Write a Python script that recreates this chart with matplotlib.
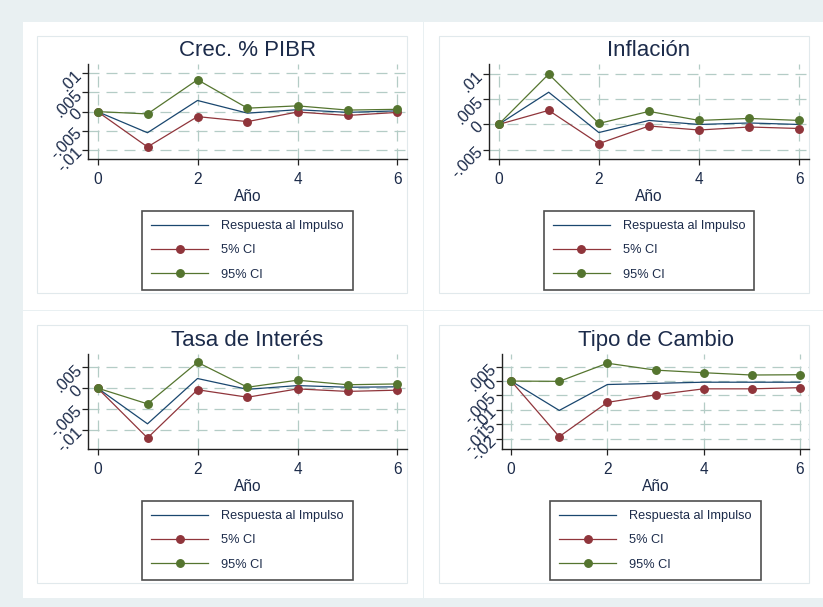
import matplotlib
matplotlib.use("Agg")
import matplotlib.pyplot as plt
from matplotlib.patches import Rectangle

plt.rcParams['font.family'] = ['Liberation Sans', 'DejaVu Sans']

W, H = 823, 607

periodo = [0, 1, 2, 3, 4, 5, 6]
series_labels = ["Respuesta al Impulso", "5% CI", "95% CI"]

# Crec. % PIBR
pib_irf = [0, -0.0055, 0.0029, -0.0004, 0.0005, -0.0002, 0.0002]
pib_lo = [0, -0.0092, -0.0013, -0.0026, -0.0001, -0.0010, -0.0002]
pib_hi = [0, -0.0006, 0.0083, 0.0009, 0.0015, 0.0004, 0.0006]
pib_ticks = [-0.01, -0.005, 0, 0.005, 0.01]
pib_ticklabels = ["-.01", "-.005", "0", ".005", ".01"]

# Inflacion
inf_irf = [0, 0.0064, -0.0016, 0.0008, 0.0, 0.0003, 0.0]
inf_lo = [0, 0.0028, -0.0038, -0.0003, -0.0011, -0.0005, -0.0008]
inf_hi = [0, 0.0100, 0.0002, 0.0026, 0.0008, 0.0012, 0.0008]
inf_ticks = [-0.005, 0, 0.005, 0.01]
inf_ticklabels = ["-.005", "0", ".005", ".01"]

# Tasa de interes
tasa_irf = [0, -0.0086, 0.0023, -0.0003, 0.0006, 0.0002, 0.0003]
tasa_lo = [0, -0.0120, -0.0004, -0.0022, -0.0002, -0.0008, -0.0005]
tasa_hi = [0, -0.0038, 0.0062, 0.0002, 0.0019, 0.0008, 0.0010]
tasa_ticks = [-0.01, -0.005, 0, 0.005]
tasa_ticklabels = ["-.01", "-.005", "0", ".005"]

# Tipo de cambio
tc_irf = [0, -0.0102, -0.0012, -0.0008, -0.0004, -0.0004, -0.0004]
tc_lo = [0, -0.0193, -0.0074, -0.0048, -0.0027, -0.0027, -0.0023]
tc_hi = [0, -0.0001, 0.0062, 0.0038, 0.0029, 0.0021, 0.0022]
tc_ticks = [-0.02, -0.015, -0.01, -0.005, 0, 0.005]
tc_ticklabels = ["-.02", "-.015", "-.01", "-.005", "0", ".005"]

TXT = '#1c2b4a'
NAVY = '#1a476f'
MAROON = '#90353b'
GREEN = '#55752f'
GRID = '#b4ccc6'


def fx(px):
    return px / W


def fy(py):
    return 1 - py / H


def frect(x0, y0, x1, y1):
    return [fx(x0), fy(y1), (x1 - x0) / W, (y1 - y0) / H]


fig = plt.figure(figsize=(W / 100, H / 100), dpi=100, facecolor='#e9f0f2')

# white panels and their inner frames
panels = [(23, 22, 423, 310), (424, 22, 824, 310),
          (23, 311, 423, 598), (424, 311, 824, 598)]
frames = [(37, 36, 407, 293), (439, 36, 809, 293),
          (37, 325, 407, 583), (439, 325, 809, 583)]
for (x0, y0, x1, y1) in panels:
    fig.patches.append(Rectangle((fx(x0), fy(y1)), (x1 - x0) / W, (y1 - y0) / H,
                                 transform=fig.transFigure, facecolor='white',
                                 edgecolor='none', zorder=-3))
for (x0, y0, x1, y1) in frames:
    fig.patches.append(Rectangle((fx(x0), fy(y1)), (x1 - x0) / W, (y1 - y0) / H,
                                 transform=fig.transFigure, facecolor='none',
                                 edgecolor='#e1e9ec', lw=0.8, zorder=-2))

specs = [
    ("Crec. % PIBR", (88, 64, 407, 159), 56, pib_irf, pib_lo, pib_hi,
     pib_ticks, pib_ticklabels, (-0.01234, 0.0124)),
    ("Inflación", (489, 64, 809, 159), 56, inf_irf, inf_lo, inf_hi,
     inf_ticks, inf_ticklabels, (-0.00685, 0.0120)),
    ("Tasa de Interés", (88, 354, 407, 449), 346, tasa_irf, tasa_lo, tasa_hi,
     tasa_ticks, tasa_ticklabels, (-0.01466, 0.0082)),
    ("Tipo de Cambio", (502, 354, 809, 449), 346, tc_irf, tc_lo, tc_hi,
     tc_ticks, tc_ticklabels, (-0.0236, 0.0094)),
]

for title, box, ty, irf, lo, hi, yt, ytl, ylim in specs:
    x0, y0, x1, y1 = box
    ax = fig.add_axes(frect(x0, y0, x1, y1))
    ax.set_zorder(2)
    ax.set_facecolor('none')

    ax.plot(periodo, irf, color=NAVY, lw=0.9, label=series_labels[0], zorder=3)
    ax.plot(periodo, lo, color=MAROON, lw=0.9, marker='o', ms=5.4,
            label=series_labels[1], zorder=3)
    ax.plot(periodo, hi, color=GREEN, lw=0.9, marker='o', ms=5.4,
            label=series_labels[2], zorder=3)

    ax.set_xlim(-0.19, 6.19)
    ax.set_ylim(*ylim)
    ax.set_xticks([0, 2, 4, 6])
    ax.set_yticks(yt)
    ax.set_yticklabels(ytl)
    ax.grid(True, color=GRID, lw=0.9, linestyle=(0, (8.8, 5.6)), zorder=1)

    for side in ['top', 'right']:
        ax.spines[side].set_visible(False)
    for side in ['left', 'bottom']:
        ax.spines[side].set_color('#222222')
        ax.spines[side].set_linewidth(1.0)

    ax.tick_params(axis='both', colors='#222222', labelcolor=TXT,
                   length=4.5, width=0.9)
    ax.tick_params(axis='x', pad=4.5, labelsize=11.2)
    ax.tick_params(axis='y', pad=1.5, labelsize=11.8)
    for lbl in ax.get_yticklabels():
        lbl.set_rotation(45)
        lbl.set_rotation_mode('anchor')
        lbl.set_ha('right')
        lbl.set_va('center')

    ax.set_xlabel("Año", fontsize=11.2, color=TXT, labelpad=2.0)

    fig.text(fx((x0 + x1) / 2), fy(ty), title, ha='center', va='baseline',
             fontsize=16, color=TXT, zorder=3)

    leg = ax.legend(loc='upper center', bbox_to_anchor=(0.5, -52 / (y1 - y0)),
                    borderaxespad=0, fontsize=9.2, frameon=True, fancybox=False,
                    handlelength=4.45, handletextpad=1.0, labelspacing=0.96,
                    borderpad=0.72, numpoints=1)
    leg.get_frame().set_edgecolor('#222222')
    leg.get_frame().set_linewidth(1.2)
    for t in leg.get_texts():
        t.set_color(TXT)

fig.savefig("out.png", dpi=100, facecolor=fig.get_facecolor())
